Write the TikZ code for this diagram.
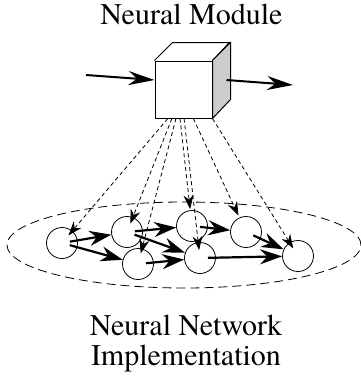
\documentclass[tikz,border=0pt]{standalone}
\usepackage{fontspec}
\setmainfont{texgyretermes-regular.otf}
\usetikzlibrary{arrows.meta, calc, positioning}

\tikzset{
  unit/.style={circle, draw, line width=0.8pt, minimum size=31pt, inner sep=0pt},
  link/.style={line width=2.2pt, arrows={-Stealth[length=22pt, width=15pt]}, shorten <=8pt},
  map/.style={dash pattern=on 4pt off 3pt, line width=0.8pt, arrows={-Stealth[length=14pt, width=10pt]}},
  flow/.style={line width=2pt, arrows={-Stealth[length=26pt, width=14pt]}},
  heading/.style={font=\fontsize{30}{30}\selectfont, align=center, inner sep=0pt}
}

\begin{document}
\begin{tikzpicture}[x=1pt, y=-1pt]
    \useasboundingbox (0,0) rectangle (361,381);
    % Module
    \node[draw, line width=1pt, minimum size=57pt, inner sep=0pt] (module) at (183.5,89.5) {};
    \draw[line width=1pt] (module.north west) -- ++(18,-18) -- ++(57,0) -- (module.north east);
    \filldraw[fill=gray!40, line width=1pt] (module.north east) -- ++(18,-18) -- ++(0,57) -- (module.south east) -- cycle;
    \coordinate (src) at (86,75);
    \coordinate (modin) at ($(module.west)+(0,-9.5)$);
    \coordinate (modout) at ($(module.east)+(14,-9.5)$);
    \coordinate (dst) at (293,85);
    \draw[flow] (src) -- (modin);
    \draw[flow] (modout) -- (dst);
    % Network
    \draw[dash pattern=on 9pt off 5pt, line width=0.8pt] (184,245) ellipse (177pt and 43pt);
    \node[unit] (n1) at (62,243) {};
    \node[unit] (n2) at (127,232) {};
    \node[unit] (n3) at (192,226) {};
    \node[unit] (n4) at (246,232) {};
    \node[unit] (n5) at (298,256) {};
    \node[unit] (n6) at (138,264) {};
    \node[unit] (n7) at (200,258) {};
    \foreach \a/\b in {n1/n2, n1/n6, n2/n3, n2/n7, n6/n7, n3/n4, n4/n5, n7/n5}
      \draw[link] (\a.center) -- (\b);
    % Mapping
    \foreach \f/\t/\s in {0.23/n1/10, 0.30/n2/9, 0.37/n6/11, 0.44/n3/17, 0.51/n7/8, 0.67/n4/18, 1.0/n5/9}
      \draw[map, shorten >=\s pt] ($(module.south west)!\f!(module.south east)$) -- (\t.center);
    % Labels
    \node[heading, anchor=base] (title) at (191.5,24) {Neural Module};
    \node[heading, anchor=north] (caption) at (186,315) {Neural Network\\Implementation};
\end{tikzpicture}
\end{document}
